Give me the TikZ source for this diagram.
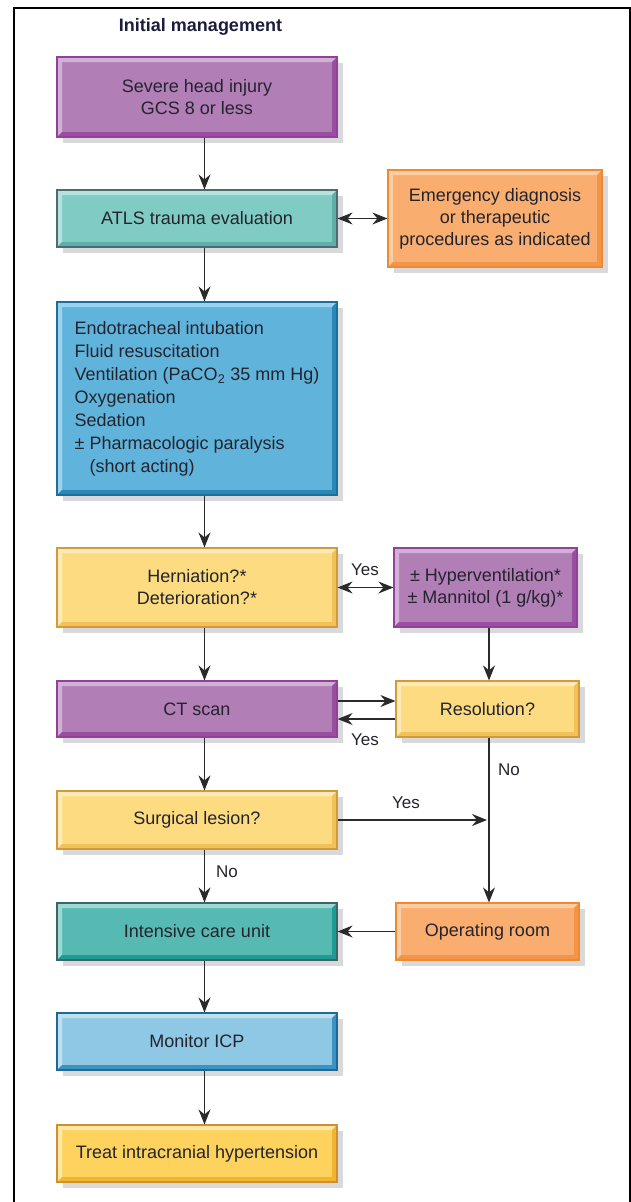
\documentclass[tikz,border=0pt]{standalone}
\usepackage{fontspec}
\setmainfont{Liberation Sans}
\usetikzlibrary{arrows.meta,shadows}
\definecolor{linec}{HTML}{2A2A2A}
\definecolor{txtc}{HTML}{24242E}
\definecolor{titlec}{HTML}{1C1C3C}
\definecolor{shadowc}{HTML}{D9D9DB}
\definecolor{purF}{HTML}{B17EB6}\definecolor{purB}{HTML}{92409A}\definecolor{purL}{HTML}{D2AFD6}\definecolor{purD}{HTML}{9A4EA2}
\definecolor{tealF}{HTML}{80CBC4}\definecolor{tealB}{HTML}{4F6B6D}\definecolor{tealL}{HTML}{B5E2DD}\definecolor{tealD}{HTML}{5FAFA8}
\definecolor{oraF}{HTML}{F9AE70}\definecolor{oraB}{HTML}{F08A30}\definecolor{oraL}{HTML}{FBCDA5}\definecolor{oraD}{HTML}{F39548}
\definecolor{bluF}{HTML}{60B3DA}\definecolor{bluB}{HTML}{1A6F9C}\definecolor{bluL}{HTML}{9CD2EC}\definecolor{bluD}{HTML}{2B88B6}
\definecolor{yelF}{HTML}{FDDB80}\definecolor{yelB}{HTML}{D3993A}\definecolor{yelL}{HTML}{FEEBB8}\definecolor{yelD}{HTML}{F2C25A}
\definecolor{icuF}{HTML}{56BAB2}\definecolor{icuB}{HTML}{3E6566}\definecolor{icuL}{HTML}{9DD8D2}\definecolor{icuD}{HTML}{1E9C92}
\definecolor{monF}{HTML}{8EC8E4}\definecolor{monB}{HTML}{1F6A95}\definecolor{monL}{HTML}{BEE0F1}\definecolor{monD}{HTML}{3C92C2}
\definecolor{trtF}{HTML}{FDD35E}\definecolor{trtB}{HTML}{D0902F}\definecolor{trtL}{HTML}{FEE8A5}\definecolor{trtD}{HTML}{F2B531}
\tikzset{
  bevelbox/.style n args={4}{rectangle, inner sep=0pt, fill=#1, draw=#2, line width=1.2pt,
    text=txtc, align=center, font=\fontsize{18}{22}\selectfont,
    drop shadow={shadow xshift=6pt, shadow yshift=-6pt, fill=shadowc, opacity=1},
    path picture={
      \fill[#3] (path picture bounding box.north west) -- (path picture bounding box.north east)
        -- ([xshift=-5pt,yshift=-5pt]path picture bounding box.north east)
        -- ([xshift=5pt,yshift=-5pt]path picture bounding box.north west)
        -- ([xshift=5pt,yshift=5pt]path picture bounding box.south west)
        -- (path picture bounding box.south west) -- cycle;
      \fill[#4] (path picture bounding box.south west) -- (path picture bounding box.south east)
        -- (path picture bounding box.north east)
        -- ([xshift=-5pt,yshift=-5pt]path picture bounding box.north east)
        -- ([xshift=-5pt,yshift=5pt]path picture bounding box.south east)
        -- ([xshift=5pt,yshift=5pt]path picture bounding box.south west) -- cycle;
    }},
  purbox/.style={bevelbox={purF}{purB}{purL}{purD}},
  tealbox/.style={bevelbox={tealF}{tealB}{tealL}{tealD}},
  orabox/.style={bevelbox={oraF}{oraB}{oraL}{oraD}},
  blubox/.style={bevelbox={bluF}{bluB}{bluL}{bluD}},
  yelbox/.style={bevelbox={yelF}{yelB}{yelL}{yelD}},
  icubox/.style={bevelbox={icuF}{icuB}{icuL}{icuD}},
  monbox/.style={bevelbox={monF}{monB}{monL}{monD}},
  trtbox/.style={bevelbox={trtF}{trtB}{trtL}{trtD}},
  tip/.tip={Stealth[length=15pt,width=12pt,inset=5pt]},
  arr/.style={draw=linec, line width=1.5pt, -tip},
  arrboth/.style={draw=linec, line width=1.5pt, tip-tip},
  lbl/.style={text=txtc, font=\fontsize{17}{20}\selectfont, inner sep=0pt},
  wide/.style={minimum width=280pt},
  narrow/.style={minimum width=183pt}
}
\begin{document}
\begin{tikzpicture}[x=1pt,y=-1pt]
\useasboundingbox (0,0) rectangle (631,1202);
\fill[white] (0,0) rectangle (631,1202);
\draw[line width=2pt, black] (14,1202) -- (14,8) -- (629.5,8) -- (629.5,1202);

\node[text=titlec, font=\bfseries\fontsize{18}{22}\selectfont] (title) at (200.5,27) {Initial management};

\coordinate (colL) at (204.5,0);
\coordinate (colR) at (489,0);

\node[purbox, wide, minimum height=80pt] (b1) at (197,97) {Severe head injury\\GCS 8 or less};
\node[tealbox, wide, minimum height=57pt] (atls) at (197,218.5) {ATLS trauma evaluation};
\node[orabox, minimum width=214pt, minimum height=97pt] (emerg) at (495,218.5) {Emergency diagnosis\\or therapeutic\\procedures as indicated};
\node[blubox, wide, minimum height=193pt, align=left, font=\fontsize{18}{23}\selectfont] (resus) at (197,398.5)
  {Endotracheal intubation\\Fluid resuscitation\\Ventilation (PaCO\textsubscript{2} 35 mm Hg)\\Oxygenation\\Sedation\\\textpm{} Pharmacologic paralysis\\\hspace*{15pt}(short acting)};
\node[yelbox, wide, minimum height=79pt] (hern) at (197,587.5) {Herniation?*\\Deterioration?*};
\node[purbox, narrow, minimum height=79pt] (hyp) at (485.5,587.5) {\textpm{} Hyperventilation*\\\textpm{} Mannitol (1 g/kg)*};
\node[purbox, wide, minimum height=56pt] (ct) at (197,709) {CT scan};
\node[yelbox, narrow, minimum height=56pt] (res) at (487.5,709) {Resolution?};
\node[yelbox, wide, minimum height=58pt] (surg) at (197,820) {Surgical lesion?};
\node[icubox, wide, minimum height=57pt] (icu) at (197,931.5) {Intensive care unit};
\node[orabox, narrow, minimum height=57pt] (or) at (487.5,931.5) {Operating room};
\node[monbox, wide, minimum height=57pt] (mon) at (197,1041.5) {Monitor ICP};
\node[trtbox, wide, minimum height=57pt] (trt) at (197,1153.5) {Treat intracranial hypertension};

% connectors
\draw[arr] (b1.south -| colL) -- (atls.north -| colL);
\draw[arrboth] (atls.east) -- (emerg.west);
\draw[arr] (atls.south -| colL) -- (resus.north -| colL);
\draw[arr] (resus.south -| colL) -- (hern.north -| colL);
\draw[arrboth] (hern.east) -- (hyp.west);
\node[lbl] (yes1) at (365,570) {Yes};
\draw[arr] (hern.south -| colL) -- (ct.north -| colL);
\draw[arr] (hyp.south -| colR) -- (res.north -| colR);
\draw[arr] ([yshift=8pt]ct.east) -- ([yshift=8pt]ct.east -| res.west);
\draw[arr] ([yshift=-10pt]res.west) -- ([yshift=-10pt]res.west -| ct.east);
\node[lbl] (yes2) at (365,740) {Yes};
\draw[arr] (ct.south -| colL) -- (surg.north -| colL);
\draw[arr] (res.south -| colR) -- (or.north -| colR);
\node[lbl] (no1) at (509,770) {No};
\coordinate (join) at (surg.east -| colR);
\draw[arr, shorten >=2pt] (surg.east) -- (join);
\node[lbl] (yes3) at (406,803) {Yes};
\draw[arr] (surg.south -| colL) -- (icu.north -| colL);
\node[lbl] (no2) at (227,872) {No};
\draw[arr] (or.west) -- (icu.east);
\draw[arr] (icu.south -| colL) -- (mon.north -| colL);
\draw[arr] (mon.south -| colL) -- (trt.north -| colL);
\end{tikzpicture}
\end{document}
